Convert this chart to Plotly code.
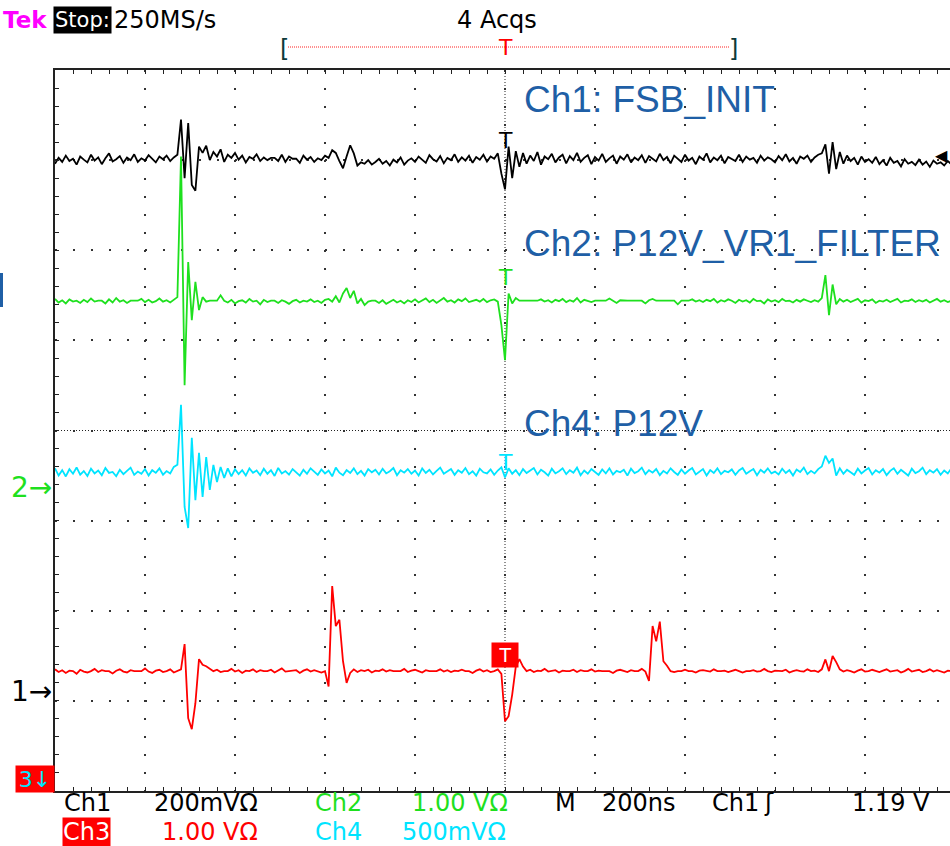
import plotly.graph_objects as go

# ---------------- data ----------------
TIME_PER_DIV_NS = 200          # M 200ns
SAMPLE_NS = 8                  # every 2nd sample of 250MS/s
T_START_NS = -1000             # left edge of graticule (trigger at 0)
TRIG_LEVEL_MV = 1190           # Ch1 trigger level 1.19 V

CH_NAMES = ["Ch1", "Ch2", "Ch3", "Ch4"]
CH_SCALE_MV = [200, 1000, 1000, 500]        # mV / div
CH_GROUND_DIV = [-2.9, -0.63, -4.5, -4.5]   # ground marker positions (div)
CH_COLORS = ["#000000", "#1EE01E", "#FF0000", "#00E4FF"]

CH1_MV = [
    1172, 1185, 1176, 1190, 1178, 1183, 1170, 1188, 1181, 1175,
    1192, 1179, 1186, 1171, 1184, 1195, 1177, 1182, 1189, 1174,
    1186, 1180, 1193, 1176, 1184, 1179, 1191, 1183, 1175, 1188,
    1182, 1190, 1178, 1186, 1192, 1270, 1140, 1262, 1125, 1112,
    1210, 1196, 1212, 1180, 1198, 1188, 1204, 1176, 1192, 1185,
    1196, 1181, 1190, 1175, 1187, 1183, 1193, 1178, 1186, 1180,
    1185, 1185, 1178, 1192, 1176, 1188, 1183, 1183, 1174, 1190,
    1181, 1187, 1176, 1184, 1180, 1190, 1185, 1202, 1196, 1178,
    1162, 1188, 1213, 1195, 1168, 1175, 1172, 1180, 1170, 1176,
    1183, 1172, 1178, 1168, 1181, 1175, 1186, 1170, 1179, 1184,
    1176, 1188, 1180, 1174, 1191, 1182, 1177, 1189, 1173, 1185,
    1180, 1193, 1176, 1186, 1179, 1190, 1174, 1187, 1181, 1192,
    1177, 1188, 1183, 1195, 1150, 1115, 1210, 1140, 1200, 1165,
    1196, 1172, 1190, 1178, 1198, 1170, 1188, 1182, 1194, 1175,
    1186, 1192, 1173, 1189, 1180, 1196, 1176, 1185, 1191, 1171,
    1187, 1179, 1194, 1176, 1184, 1190, 1172, 1188, 1181, 1193,
    1175, 1186, 1180, 1191, 1174, 1189, 1183, 1177, 1194, 1180,
    1187, 1173, 1190, 1182, 1176, 1192, 1179, 1185, 1171, 1188,
    1181, 1195, 1175, 1186, 1180, 1190, 1173, 1187, 1183, 1178,
    1192, 1176, 1188, 1181, 1185, 1174, 1190, 1179, 1186, 1182,
    1175, 1189, 1180, 1193, 1177, 1185, 1172, 1188, 1183, 1190,
    1176, 1186, 1192, 1195, 1215, 1150, 1220, 1160, 1198, 1172,
    1190, 1178, 1185, 1170, 1188, 1176, 1182, 1174, 1187, 1171,
    1180, 1168, 1185, 1174, 1178, 1166, 1182, 1172, 1176, 1169,
    1181, 1170, 1177, 1165, 1179, 1172, 1175, 1168, 1178, 1171,
]

CH2_MV = [
    2090, 2050, 2075, 2040, 2085, 2060, 2070, 2045, 2080, 2055,
    2095, 2060, 2070, 2070, 2040, 2085, 2050, 2100, 2060, 2075,
    2045, 2070, 2070, 2070, 2090, 2055, 2080, 2050, 2065, 2095,
    2060, 2075, 2050, 2085, 2110, 3670, 1133, 2500, 1855, 2280,
    1966, 2110, 2060, 2070, 2070, 2070, 2130, 2070, 2050, 2080,
    2040, 2065, 2075, 2050, 2090, 2060, 2070, 2030, 2080, 2055,
    2070, 2070, 2045, 2075, 2060, 2035, 2065, 2080, 2050, 2070,
    2060, 2085, 2055, 2070, 2045, 2080, 2090, 2060, 2120, 2050,
    2150, 2211, 2100, 2180, 2040, 2090, 2022, 2060, 2070, 2070,
    2045, 2075, 2035, 2060, 2080, 2050, 2070, 2040, 2075, 2055,
    2085, 2050, 2070, 2095, 2055, 2080, 2045, 2070, 2100, 2060,
    2075, 2050, 2085, 2065, 2095, 2055, 2070, 2080, 2060, 2090,
    2055, 2075, 2085, 2060, 1800, 1411, 2150, 2040, 2100, 2070,
    2070, 2070, 2070, 2070, 2070, 2085, 2060, 2075, 2050, 2080,
    2065, 2090, 2055, 2075, 2060, 2100, 2050, 2080, 2070, 2055,
    2070, 2070, 2070, 2070, 2095, 2070, 2045, 2075, 2070, 2070,
    2070, 2070, 2070, 2070, 2040, 2075, 2090, 2070, 2070, 2070,
    2070, 2070, 2070, 2030, 2070, 2070, 2070, 2085, 2060, 2075,
    2055, 2080, 2065, 2090, 2050, 2075, 2060, 2085, 2070, 2045,
    2080, 2060, 2075, 2050, 2090, 2065, 2070, 2040, 2085, 2060,
    2075, 2055, 2090, 2065, 2070, 2050, 2080, 2060, 2085, 2070,
    2055, 2075, 2060, 2100, 2355, 1911, 2250, 2030, 2090, 2060,
    2080, 2055, 2070, 2090, 2050, 2075, 2065, 2085, 2045, 2070,
    2060, 2080, 2055, 2075, 2090, 2050, 2070, 2065, 2085, 2055,
    2075, 2060, 2080, 2050, 2070, 2090, 2060, 2075, 2055, 2070,
]

CH3_MV = [
    1850, 1820, 1840, 1810, 1835, 1830, 1800, 1845, 1825, 1815,
    1830, 1855, 1820, 1840, 1830, 1830, 1805, 1835, 1850, 1825,
    1815, 1840, 1830, 1830, 1830, 1860, 1825, 1810, 1835, 1845,
    1820, 1830, 1850, 1815, 1835, 1850, 2130, 1308, 1186, 1474,
    1963, 1900, 1885, 1860, 1830, 1845, 1820, 1830, 1830, 1855,
    1825, 1840, 1810, 1835, 1830, 1850, 1820, 1840, 1830, 1830,
    1845, 1815, 1835, 1860, 1825, 1830, 1830, 1840, 1810, 1835,
    1850, 1825, 1840, 1830, 1815, 1830, 1660, 2774, 2330, 2400,
    1940, 1700, 1810, 1850, 1820, 1840, 1830, 1845, 1815, 1835,
    1830, 1850, 1825, 1840, 1830, 1830, 1830, 1855, 1820, 1835,
    1845, 1830, 1815, 1840, 1830, 1830, 1830, 1850, 1825, 1840,
    1820, 1835, 1830, 1845, 1830, 1830, 1810, 1835, 1850, 1825,
    1840, 1820, 1830, 1850, 1800, 1274, 1330, 1570, 1880, 1963,
    1880, 1830, 1845, 1820, 1835, 1830, 1855, 1825, 1830, 1840,
    1815, 1835, 1830, 1830, 1845, 1820, 1840, 1830, 1830, 1850,
    1825, 1835, 1830, 1830, 1830, 1810, 1835, 1845, 1830, 1820,
    1840, 1830, 1830, 1855, 1825, 1720, 2330, 2160, 2380, 1940,
    1890, 1830, 1820, 1830, 1830, 1845, 1830, 1830, 1815, 1835,
    1840, 1830, 1825, 1850, 1830, 1830, 1835, 1820, 1830, 1845,
    1830, 1815, 1830, 1830, 1840, 1825, 1830, 1855, 1830, 1820,
    1835, 1830, 1830, 1845, 1815, 1830, 1840, 1830, 1825, 1850,
    1830, 1835, 1820, 1850, 1960, 1830, 1997, 1930, 1850, 1825,
    1840, 1830, 1815, 1835, 1850, 1825, 1830, 1845, 1830, 1820,
    1835, 1850, 1825, 1830, 1840, 1815, 1830, 1855, 1825, 1835,
    1845, 1820, 1830, 1850, 1825, 1840, 1830, 1815, 1835, 1830,
]

CH4_MV = [
    2040, 2000, 2030, 1995, 2035, 2010, 2045, 2005, 2025, 1998,
    2038, 2012, 2028, 2002, 2042, 2015, 2020, 1996, 2032, 2008,
    2026, 2044, 2004, 2022, 2010, 2036, 2000, 2030, 2015, 2040,
    2005, 2025, 2012, 2048, 2060, 2392, 1826, 1709, 2209, 1864,
    2126, 1881, 2103, 1920, 2059, 1964, 2048, 1987, 2040, 1995,
    2035, 2008, 2030, 2000, 2040, 2015, 2028, 2002, 2038, 2010,
    2030, 1998, 2042, 2012, 2025, 2005, 2036, 2018, 2000, 2032,
    2010, 2040, 2020, 2004, 2034, 2012, 2028, 1996, 2044, 2016,
    2002, 2030, 2014, 2040, 2008, 2026, 2000, 2036, 2018, 2032,
    2006, 2038, 2012, 2024, 2042, 2002, 2030, 2016, 2036, 2010,
    2028, 2000, 2040, 2014, 2032, 2006, 2026, 2044, 2010, 2022,
    2036, 2004, 2030, 2016, 2042, 2008, 2024, 2000, 2038, 2018,
    2012, 2034, 2004, 2028, 2046, 1990, 2040, 2010, 2030, 2002,
    2036, 2014, 2026, 2042, 2006, 2032, 2018, 2000, 2038, 2012,
    2024, 2040, 2008, 2030, 2016, 2044, 2002, 2028, 2010, 2036,
    2020, 2004, 2034, 2012, 2040, 2006, 2026, 2018, 2032, 2000,
    2038, 2014, 2024, 2044, 2008, 2030, 2016, 2036, 2002, 2026,
    2012, 2040, 2020, 2004, 2034, 2010, 2028, 2042, 2006, 2022,
    2036, 2000, 2030, 2014, 2040, 2008, 2026, 2018, 2034, 2004,
    2028, 2042, 2010, 2024, 2036, 2002, 2032, 2016, 2040, 2012,
    2022, 2006, 2038, 2014, 2030, 2000, 2034, 2020, 2044, 2008,
    2026, 2012, 2036, 2050, 2110, 2070, 2095, 2000, 2040, 2010,
    2032, 2018, 2004, 2038, 2012, 2028, 2042, 2006, 2030, 2016,
    2036, 2002, 2026, 2040, 2010, 2032, 2018, 2000, 2038, 2014,
    2024, 2044, 2008, 2030, 2016, 2036, 2004, 2028, 2012, 2040,
]

CH_SERIES = [CH1_MV, CH2_MV, CH3_MV, CH4_MV]
SIGNAL_LABELS = [("Ch1: FSB_INIT", 100), ("Ch2: P12V_VR1_FILTER", 243), ("Ch4: P12V", 423)]

# ---------------- geometry helpers ----------------
W, H = 950, 846
def fx(px):
    return px / W
def fy(py):
    return 1 - py / H

GX0, GY0, GY1 = 55, 70, 791
PX_PER_DIV = 90
X_DOM = [fx(GX0), 1.0]
Y_DOM = [fy(GY1), fy(GY0)]
X_RANGE = [-5 * TIME_PER_DIV_NS, -5 * TIME_PER_DIV_NS + (W - GX0) / PX_PER_DIV * TIME_PER_DIV_NS]
X_CENTER_PAPER = X_DOM[0] + (0 - X_RANGE[0]) / (X_RANGE[1] - X_RANGE[0]) * (X_DOM[1] - X_DOM[0])
Y_CENTER_PAPER = (Y_DOM[0] + Y_DOM[1]) / 2

SCOPE_FONT = "DejaVu Sans, sans-serif"
GRID_COL = "#333333"

t_ns = [T_START_NS + k * SAMPLE_NS for k in range(len(CH1_MV))]

fig = go.Figure()
for k in [2, 3, 1, 0]:
    fig.add_trace(go.Scatter(
        x=t_ns, y=CH_SERIES[k], mode="lines", name=CH_NAMES[k],
        line=dict(color=CH_COLORS[k], width=1.8, shape="linear"),
        yaxis="y%d" % (k + 2), hoverinfo="skip", showlegend=False,
    ))

common = dict(showgrid=True, gridcolor=GRID_COL, gridwidth=2, griddash="2px,16px",
              showline=True, linecolor="#222222", linewidth=2,
              ticks="inside", ticklen=4, tickwidth=1, tickcolor="#222222",
              showticklabels=False, zeroline=False, fixedrange=True)

layout = dict(
    width=W, height=H, margin=dict(l=0, r=0, t=0, b=0),
    paper_bgcolor="white", plot_bgcolor="white", showlegend=False,
    xaxis=dict(domain=X_DOM, range=X_RANGE, dtick=TIME_PER_DIV_NS, tick0=0, mirror="allticks",
               minor=dict(dtick=TIME_PER_DIV_NS / 5, ticks="inside", ticklen=4,
                          tickcolor="#222222", showgrid=False), **common),
    yaxis=dict(domain=Y_DOM, range=[-4, 4], dtick=1, tick0=0, mirror=False,
               minor=dict(dtick=0.2, ticks="inside", ticklen=4,
                          tickcolor="#222222", showgrid=False), **common),
)
for k in range(4):
    s, g = CH_SCALE_MV[k], CH_GROUND_DIV[k]
    layout["yaxis%d" % (k + 2)] = dict(overlaying="y", range=[(-4 - g) * s, (4 - g) * s],
                                       visible=False, fixedrange=True)

cx = dict(overlaying="x", range=X_RANGE, anchor="free", position=Y_CENTER_PAPER,
          showgrid=False, showline=False, showticklabels=False, zeroline=False,
          dtick=TIME_PER_DIV_NS / 5, tick0=0, ticklen=4, tickwidth=1, tickcolor="#222222",
          fixedrange=True)
layout["xaxis2"] = dict(ticks="outside", **cx)
layout["xaxis3"] = dict(ticks="inside", **cx)
cy = dict(overlaying="y", range=[-4, 4], anchor="free", position=X_CENTER_PAPER,
          showgrid=False, showline=False, showticklabels=False, zeroline=False,
          dtick=0.2, tick0=0, ticklen=4, tickwidth=1, tickcolor="#222222", fixedrange=True)
layout["yaxis6"] = dict(ticks="outside", **cy)
layout["yaxis7"] = dict(ticks="inside", **cy)
fig.update_layout(**layout)

shapes = [
    # centre cross (fine dotted)
    dict(type="line", xref="x", yref="paper", x0=0, x1=0, y0=Y_DOM[0], y1=Y_DOM[1],
         line=dict(color="#222222", width=1, dash="1px,2px"), layer="below"),
    dict(type="line", xref="paper", yref="y", x0=X_DOM[0], x1=1, y0=0, y1=0,
         line=dict(color="#222222", width=1, dash="1px,2px"), layer="below"),
    # trigger position bar in header
    dict(type="line", xref="paper", yref="paper", x0=fx(288), x1=fx(729), y0=fy(47), y1=fy(47),
         line=dict(color="#FF2020", width=1, dash="1px,1px")),
    # blue mark at left edge
    dict(type="rect", xref="paper", yref="paper", x0=0, x1=fx(3), y0=fy(307), y1=fy(273),
         line=dict(width=0), fillcolor="#1F5FA6"),
]
fig.update_layout(shapes=shapes)

ann = []
def txt(text, x, y, size, color, xanchor="left", yanchor="middle", family=SCOPE_FONT,
        xref="paper", yref="paper", **kw):
    ann.append(dict(text=text, x=x, y=y, xref=xref, yref=yref, xanchor=xanchor, yanchor=yanchor,
                    showarrow=False, font=dict(family=family, size=size, color=color), **kw))

# header
txt("<b>Tek</b>", fx(1), fy(20), 23, "#FF00FF")
txt("Stop:", fx(53), fy(20), 21, "white", bgcolor="black", borderpad=1)
txt("250MS/s", fx(112), fy(20), 24, "black")
txt("4 Acqs", fx(455), fy(20), 24, "black")
txt("[", fx(284), fy(49), 24, "#0E3A3A", xanchor="center")
txt("]", fx(733), fy(49), 24, "#0E3A3A", xanchor="center")
txt("T", 0, fy(47), 22, "#FF0000", xanchor="center", xref="x")

# signal names
for label, ypx in SIGNAL_LABELS:
    txt(label, fx(522), fy(ypx), 37, "#1F5FA6", family="Liberation Sans, Arial, sans-serif")

# per-channel trigger markers
txt("T", 0, fy(141), 22, "black", xanchor="center", xref="x")
txt("T", 0, fy(278), 22, CH_COLORS[1], xanchor="center", xref="x")
txt("T", 0, fy(463), 22, CH_COLORS[3], xanchor="center", xref="x")
txt("T", 0, fy(655), 19, "white", xanchor="center", xref="x", bgcolor="#FF0000",
    width=24, height=22, borderpad=1)

# ground markers
txt("2→", fx(54), 0, 28, CH_COLORS[1], xanchor="right", yref="y3")
txt("1→", fx(54), 0, 28, "black", xanchor="right", yref="y2")
txt("3↓", fx(55), fy(793), 22, CH_COLORS[3], xanchor="right", yanchor="bottom",
    bgcolor="#FF0000", width=36, height=24, borderpad=1)
# trigger level arrow (Ch1)
txt("◀", 1, TRIG_LEVEL_MV, 16, "black", xanchor="right", yref="y2")

# footer row 1
ROW1 = fy(803)
FS = 24
txt("Ch1", fx(62), ROW1, FS, "black")
txt("200mVΩ", fx(152), ROW1, FS, "black")
txt("Ch2", fx(313), ROW1, FS, CH_COLORS[1])
txt("1.00 VΩ", fx(410), ROW1, FS, CH_COLORS[1])
txt("M", fx(553), ROW1, FS, "black")
txt("200ns", fx(600), ROW1, FS, "black")
txt("Ch1", fx(710), ROW1, FS, "black")
txt("ʃ", fx(762), ROW1, FS, "black")
txt("1.19 V", fx(850), ROW1, FS, "black")
# footer row 2
ROW2 = fy(832)
txt("Ch3", fx(62), ROW2, FS, "white", bgcolor="#FF0000", borderpad=0)
txt("1.00 VΩ", fx(160), ROW2, FS, CH_COLORS[2])
txt("Ch4", fx(313), ROW2, FS, CH_COLORS[3])
txt("500mVΩ", fx(400), ROW2, FS, CH_COLORS[3])

fig.update_layout(annotations=ann)
fig.write_html("out.html")
